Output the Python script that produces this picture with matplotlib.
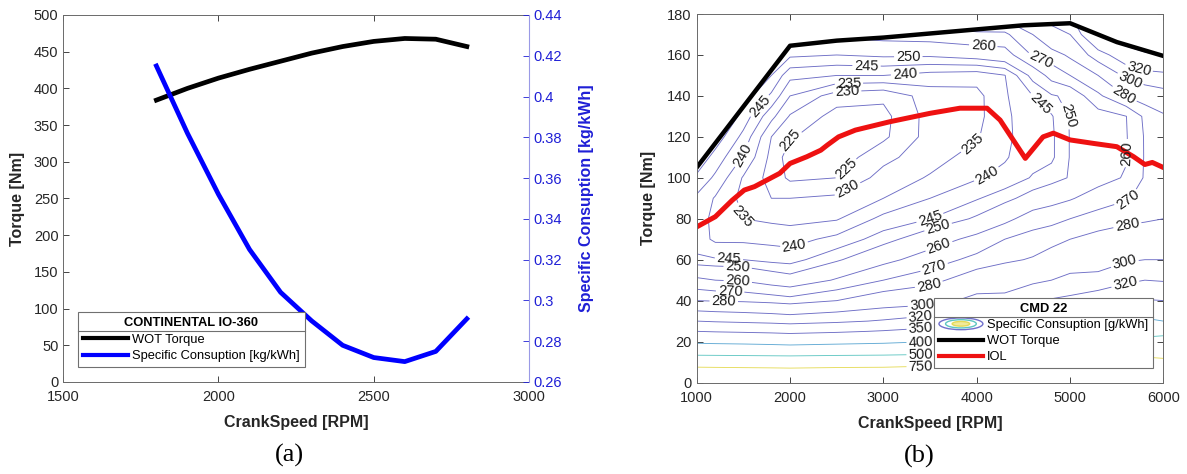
import matplotlib
matplotlib.use('Agg')
import matplotlib.pyplot as plt
import numpy as np
from matplotlib.lines import Line2D
from matplotlib.patches import Ellipse, Polygon, Patch
from matplotlib.legend_handler import HandlerBase

plt.rcParams['font.family'] = ['Liberation Sans', 'DejaVu Sans']

# (a) Continental IO-360
io360_rpm = [1800, 1900, 2000, 2100, 2200, 2300, 2400, 2500, 2600, 2700, 2800]
io360_torque = [384, 400, 414, 426, 437, 448, 457, 464, 468, 467, 457]
io360_bsfc = [0.415, 0.382, 0.352, 0.325, 0.304, 0.290, 0.278, 0.272, 0.270, 0.275, 0.291]

# (b) CMD 22
wot_rpm = [1000, 2000, 2500, 3000, 3500, 4000, 4500, 5000, 5500, 6000]
wot_torque = [105, 164.5, 167, 168.5, 170.5, 172.5, 174.5, 175.5, 166.3, 159.5]

iol_rpm = [1000, 1200, 1380, 1510, 1620, 1890, 2000, 2180, 2330, 2400, 2520, 2700, 3070,
           3500, 3820, 4110, 4250, 4520, 4710, 4820, 5000, 5250, 5500, 5680, 5800, 5880, 6000]
iol_torque = [76, 81, 89, 94, 95.7, 102.2, 107, 110.3, 113.5, 116, 120, 123.3, 127.4,
              131.5, 134, 134, 128.2, 109.5, 120, 121.8, 118.5, 116.8, 115.2, 110.3, 106.5, 107.5, 105]

map_speed = [1000, 1200, 1500, 1800, 2000, 2500, 3000, 3500, 4000, 4300, 4600, 4800, 5000, 5300, 5600, 5800, 6000]
map_torque = [0, 5, 10, 15, 20, 25, 30, 40, 50, 60, 70, 80, 90, 100, 110, 120, 130, 140, 150, 160, 170, 180]
# specific consumption [g/kWh], one row per speed, values along map_torque
bsfc_map = [
    [2000, 900, 600, 450, 390, 350, 320, 280, 262, 246, 242.5, 242.5, 244, 249, 254, 259, 264, 269, 274, 279, 284, 289],
    [2000, 890, 598, 448, 388, 348, 318, 279, 260, 245.5, 239, 238.5, 239.5, 244, 248, 253, 258, 263, 268, 273, 278, 283],
    [2000, 880, 595, 445, 386, 346, 316, 278, 259, 245, 239, 235, 233.5, 234.5, 239.5, 243.5, 248, 253, 258, 263, 268, 273],
    [2000, 870, 592, 442, 383, 344, 314, 276, 255, 243.5, 238.5, 234, 230, 228, 228.5, 230, 236.5, 244, 250, 256, 262, 268],
    [2000, 860, 590, 440, 380, 342, 312, 274, 253, 243, 238, 233.5, 230, 224, 222.5, 225.5, 229.5, 235, 241.5, 251, 261, 271],
    [2000, 880, 600, 445, 385, 346, 316, 280, 261, 249, 241.5, 234.5, 231, 225, 222, 221.5, 223, 227.5, 240, 250, 262, 275],
    [2000, 890, 605, 450, 390, 352, 322, 288, 270, 257, 247.5, 241.5, 235, 232, 228.5, 224, 223.5, 226, 240, 251, 264, 277],
    [2000, 950, 620, 460, 400, 360, 330, 292, 276, 265, 255, 245, 240, 235.5, 233, 232, 232, 232.5, 238, 251, 265, 280],
    [2000, 1050, 680, 510, 430, 380, 340, 306, 288, 273, 263, 251, 244.5, 239.5, 237, 234.5, 233.5, 233.5, 237, 253, 268, 283],
    [2000, 1100, 700, 530, 445, 392, 352, 306, 290, 278, 270, 257, 248, 241.5, 239.5, 239, 239, 239.3, 239.8, 255, 268, 285],
    [2000, 1150, 730, 550, 460, 405, 360, 318, 296, 281, 274, 265, 253, 245.5, 243, 242.5, 243, 245, 252, 271, 280, 300],
    [2000, 1200, 755, 570, 475, 418, 370, 322, 300, 286, 276, 267, 256, 247.5, 244, 244, 244.5, 249, 264, 275, 292, 310],
    [2000, 1250, 780, 590, 490, 430, 375, 325, 305, 290, 280, 270, 259, 250.5, 250.3, 250.3, 250.4, 252, 270, 282, 300, 320],
    [2000, 1300, 800, 610, 505, 442, 385, 335, 305, 293, 284, 274, 265, 256, 254.5, 254.5, 255.5, 268, 280, 310, 350, 380],
    [2000, 1350, 830, 630, 520, 455, 400, 345, 315, 298, 287, 277, 269, 261, 259.3, 259.3, 259.8, 280.5, 304, 335, 370, 400],
    [2000, 1380, 850, 645, 530, 462, 408, 352, 320, 300, 290, 278, 273, 271, 270.7, 270.8, 272, 286, 312, 345, 380, 410],
    [2000, 1400, 800, 660, 540, 470, 400, 350, 318, 300, 288, 280, 277, 276, 275.5, 276, 278, 292, 314, 352, 390, 420],
]
bsfc_levels = [225, 230, 235, 240, 245, 250, 260, 270, 280, 300, 320, 350, 400, 500, 750]
level_colors = ['#6e6ec6'] * 12 + ['#62aad4', '#64c8c4', '#e6dc5c']

# where matlab put the contour labels (rpm, Nm)
label_spots = {
    225: [(1997, 118.5), (2613, 103.8)],
    230: [(2613, 140.4), (2593, 96.5)],
    235: [(2631, 145.3), (1419, 80.2), (3976, 115.2)],
    240: [(3229, 152.9), (1494, 111.1), (4106, 101.4), (2035, 68)],
    245: [(2819, 153.5), (1643, 136.4), (4629, 133.9), (3499, 80.2), (1345, 59.8)],
    250: [(3267, 159.2), (5020, 131.5), (3594, 74.5), (1438, 54.6)],
    260: [(4069, 164), (5598, 112), (3603, 65.5), (1440, 48.4)],
    270: [(4685, 157.5), (5617, 89.1), (3546, 55.8), (1357, 42.4)],
    280: [(5562, 139.6), (5618, 75.3), (3488, 47.6), (1290, 38.7)],
    300: [(5636, 147), (5598, 56.6), (3413, 37.9)],
    320: [(5748, 155), (5598, 46.8), (3400, 32.2)],
    350: [(3400, 26.5)],
    400: [(3400, 19.9)],
    500: [(3400, 13.8)],
    750: [(3400, 7.7)],
}

txt = '#262626'
blue = '#1f1fd6'


class ContourIcon(HandlerBase):
    def create_artists(self, legend, orig_handle, xdescent, ydescent, width, height, fontsize, trans):
        cx, cy = width / 2 - xdescent, height / 2 - ydescent
        out = []
        for k, ec, fc in [(1.0, '#7070cc', 'none'), (0.7, '#5ec6c2', 'none'), (0.4, '#e4da58', '#f2ea9a')]:
            e = Ellipse((cx, cy), width * k, height * 1.3 * k, edgecolor=ec, facecolor=fc, lw=1.0, transform=trans)
            out.append(e)
        return out


fig = plt.figure(figsize=(11.87, 4.74), dpi=100)
axa = fig.add_axes([0.0533, 0.1941, 0.3923, 0.7743])
axb = fig.add_axes([0.5869, 0.1930, 0.3933, 0.7774])

# ---- (a)
axa.plot(io360_rpm, io360_torque, color='k', lw=3.4)
ax2 = axa.twinx()
ax2.plot(io360_rpm, io360_bsfc, color='#0000ff', lw=3.4)
axa.set_xlim(1500, 3000)
axa.set_ylim(0, 500)
axa.set_xticks([1500, 2000, 2500, 3000])
axa.set_yticks(np.arange(0, 501, 50))
ax2.set_ylim(0.26, 0.44)
ax2.set_yticks(np.arange(0.26, 0.4401, 0.02))
ax2.set_yticklabels(['%g' % round(v, 2) for v in np.arange(0.26, 0.4401, 0.02)])
axa.tick_params(direction='in', length=4, width=0.6, labelsize=10.5, colors=txt, top=True)
axa.tick_params(axis='x', pad=6)
ax2.tick_params(direction='in', length=4, width=0.6, labelsize=10.5, colors=blue)
for s in ['left', 'bottom', 'top']:
    axa.spines[s].set_color('#6a6a6a')
    axa.spines[s].set_linewidth(0.7)
    ax2.spines[s].set_visible(False)
axa.spines['right'].set_visible(False)
ax2.spines['right'].set_color('#9a9ae6')
ax2.spines['right'].set_linewidth(0.8)
axa.set_xlabel('CrankSpeed [RPM]', fontsize=11.5, fontweight='bold', color=txt, labelpad=8)
axa.set_ylabel('Torque [Nm]', fontsize=11.5, fontweight='bold', color=txt, labelpad=6)
ax2.set_ylabel('Specific Consuption [kg/kWh]', fontsize=11.5, fontweight='bold', color=blue, labelpad=12)

hand_a = [Line2D([], [], color='k', lw=3), Line2D([], [], color='#0000ff', lw=3)]
leg_a = ax2.legend(hand_a, ['WOT Torque', 'Specific Consuption [kg/kWh]'], title='CONTINENTAL IO-360',
                   loc='lower left', bbox_to_anchor=(0.031, 0.040), fontsize=9.3, handlelength=3.5,
                   labelspacing=0.35, borderpad=0.4, handletextpad=0.3, borderaxespad=0,
                   fancybox=False, framealpha=1, edgecolor='#707070')
leg_a.get_title().set_fontweight('bold')
leg_a.get_title().set_fontsize(9.3)
leg_a.get_frame().set_linewidth(0.8)

# ---- (b)
X, Y = np.meshgrid(map_speed, map_torque)
Z = np.array(bsfc_map, dtype=float).T
clip = Polygon(np.column_stack([wot_rpm + [6000, 1000], wot_torque + [0, 0]]), closed=True,
               transform=axb.transData, facecolor='none')
for lev, col in zip(bsfc_levels, level_colors):
    cs = axb.contour(X, Y, Z, levels=[lev], colors=[col], linewidths=0.65)
    cs.clabel(manual=label_spots[lev], fontsize=10.5, fmt='%d', colors='#1a1a1a', inline_spacing=2)
    cs.set_clip_path(clip)

axb.plot(wot_rpm, wot_torque, color='k', lw=3.2, solid_joinstyle='round')
axb.plot(iol_rpm, iol_torque, color='#ee1111', lw=3.6, solid_joinstyle='round')
axb.set_xlim(1000, 6000)
axb.set_ylim(0, 180)
axb.set_xticks(np.arange(1000, 6001, 1000))
axb.set_yticks(np.arange(0, 181, 20))
axb.tick_params(direction='in', length=4, width=0.6, labelsize=10.5, colors=txt, top=True, right=True)
axb.tick_params(axis='x', pad=6)
for s in axb.spines.values():
    s.set_color('#6a6a6a')
    s.set_linewidth(0.7)
axb.set_xlabel('CrankSpeed [RPM]', fontsize=11.5, fontweight='bold', color=txt, labelpad=8)
axb.set_ylabel('Torque [Nm]', fontsize=11.5, fontweight='bold', color=txt, labelpad=8)

proxy = Patch()
hand_b = [proxy, Line2D([], [], color='k', lw=3), Line2D([], [], color='#ee1111', lw=3)]
leg_b = axb.legend(hand_b, ['Specific Consuption [g/kWh]', 'WOT Torque', 'IOL'], title='CMD 22',
                   loc='lower left', bbox_to_anchor=(0.508, 0.0385), fontsize=9.3, handlelength=3.4,
                   labelspacing=0.3, borderpad=0.4, handletextpad=0.3, borderaxespad=0,
                   fancybox=False, framealpha=1, edgecolor='#707070', handler_map={proxy: ContourIcon()})
leg_b.get_title().set_fontweight('bold')
leg_b.get_title().set_fontsize(9.3)
leg_b.get_frame().set_linewidth(0.8)

fig.text(0.2435, 0.040, '(a)', family='Liberation Serif', fontsize=19, ha='center', va='center')
fig.text(0.7745, 0.036, '(b)', family='Liberation Serif', fontsize=19, ha='center', va='center')

# separator line under the legend titles
fig.canvas.draw()
rend = fig.canvas.get_renderer()
inv = fig.transFigure.inverted()
for leg in (leg_a, leg_b):
    fb = leg.get_frame().get_window_extent(rend)
    tb = leg.get_title().get_window_extent(rend)
    hb = leg._legend_handle_box.get_window_extent(rend)
    y = (tb.y0 + hb.y1) / 2
    (x0, yy), (x1, _) = inv.transform([(fb.x0, y), (fb.x1, y)])
    fig.add_artist(Line2D([x0, x1], [yy, yy], color='#707070', lw=0.8, zorder=10))

fig.savefig('out.png', dpi=100)
